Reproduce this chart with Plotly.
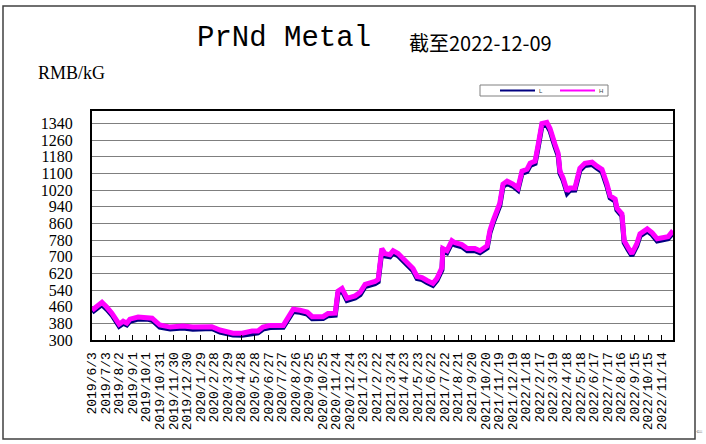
import plotly.graph_objects as go
import pandas as pd

dates = ["2019-06-03", "2019-06-25", "2019-07-06", "2019-07-17", "2019-08-02", "2019-08-11", "2019-08-19",
         "2019-08-26", "2019-09-13", "2019-10-03", "2019-10-14", "2019-10-31", "2019-11-23", "2019-12-21",
         "2020-01-12", "2020-02-23", "2020-03-12", "2020-04-10", "2020-04-30", "2020-05-22", "2020-06-04",
         "2020-06-15", "2020-07-01", "2020-07-30", "2020-08-10", "2020-08-21", "2020-09-05", "2020-09-21",
         "2020-10-02", "2020-10-26", "2020-11-06", "2020-11-22", "2020-11-28", "2020-12-07", "2020-12-18",
         "2021-01-05", "2021-01-16", "2021-01-27", "2021-02-18", "2021-02-25", "2021-03-05", "2021-03-12",
         "2021-03-23", "2021-03-30", "2021-04-10", "2021-04-30", "2021-05-13", "2021-05-22", "2021-06-02",
         "2021-06-13", "2021-06-26", "2021-07-05", "2021-07-16", "2021-07-18", "2021-07-27", "2021-08-07",
         "2021-08-14", "2021-08-29", "2021-09-10", "2021-09-27", "2021-10-08", "2021-10-24", "2021-10-30",
         "2021-11-06", "2021-11-21", "2021-11-28", "2021-12-07", "2021-12-20", "2021-12-31", "2022-01-09",
         "2022-01-20", "2022-01-27", "2022-02-07", "2022-02-14", "2022-02-22", "2022-03-05", "2022-03-12",
         "2022-03-23", "2022-03-30", "2022-04-03", "2022-04-10", "2022-04-19", "2022-04-25", "2022-05-06",
         "2022-05-17", "2022-05-28", "2022-06-13", "2022-06-24", "2022-07-05", "2022-07-16", "2022-07-23",
         "2022-08-03", "2022-08-07", "2022-08-18", "2022-08-23", "2022-09-01", "2022-09-09", "2022-09-20",
         "2022-09-27", "2022-10-13", "2022-10-24", "2022-11-04", "2022-11-17", "2022-11-28", "2022-12-09"]

high = [443, 481, 457, 429, 376, 390, 381, 400, 410, 410, 405, 372, 362, 367, 362, 364, 348, 333, 333, 343, 343,
        362, 370, 370, 405, 448, 443, 434, 412, 412, 427, 429, 535, 548, 500, 512, 529, 567, 581, 591, 739, 715,
        710, 729, 715, 672, 643, 605, 600, 586, 572, 596, 648, 739, 729, 777, 767, 758, 739, 739, 729, 753, 825,
        872, 958, 1049, 1063, 1049, 1030, 1111, 1120, 1149, 1159, 1240, 1340, 1345, 1316, 1240, 1197, 1111, 1078,
        1015, 1030, 1030, 1125, 1149, 1154, 1135, 1120, 1049, 992, 977, 934, 906, 777, 743, 715, 763, 810, 834,
        815, 786, 791, 796, 825]

low = [433, 470, 447, 420, 366, 380, 372, 390, 400, 401, 395, 362, 353, 357, 352, 355, 338, 324, 323, 333, 334,
       352, 360, 361, 395, 437, 433, 424, 402, 403, 417, 419, 524, 537, 490, 502, 518, 556, 571, 580, 727, 704,
       700, 718, 705, 662, 633, 595, 590, 576, 562, 586, 637, 728, 719, 766, 757, 748, 729, 729, 719, 742, 814,
       861, 946, 1038, 1052, 1039, 1020, 1100, 1109, 1138, 1148, 1228, 1328, 1333, 1305, 1229, 1186, 1100, 1067,
       1005, 1019, 1020, 1114, 1138, 1143, 1125, 1109, 1038, 982, 967, 924, 896, 767, 733, 705, 752, 800, 823,
       805, 776, 781, 786, 815]

tick_labels = ["2019/6/3", "2019/7/3", "2019/8/2", "2019/9/1", "2019/10/1", "2019/10/31", "2019/11/30",
               "2019/12/30", "2020/1/29", "2020/2/28", "2020/3/29", "2020/4/28", "2020/5/28", "2020/6/27",
               "2020/7/27", "2020/8/26", "2020/9/25", "2020/10/25", "2020/11/24", "2020/12/24", "2021/1/23",
               "2021/2/22", "2021/3/24", "2021/4/23", "2021/5/23", "2021/6/22", "2021/7/22", "2021/8/21",
               "2021/9/20", "2021/10/20", "2021/11/19", "2021/12/19", "2022/1/18", "2022/2/17", "2022/3/19",
               "2022/4/18", "2022/5/18", "2022/6/17", "2022/7/17", "2022/8/16", "2022/9/15", "2022/10/15",
               "2022/11/14"]

y_ticks = [300, 380, 460, 540, 620, 700, 780, 860, 940, 1020, 1100, 1180, 1260, 1340]

legend_names = ["L", "H"]

tick_vals = pd.to_datetime(tick_labels, format="%Y/%m/%d")

NAVY = "#000080"
MAGENTA = "#FF00FF"

fig = go.Figure()
fig.add_trace(go.Scatter(x=dates, y=low, mode="lines", line=dict(color=NAVY, width=5),
                         name=legend_names[0], showlegend=False, hoverinfo="skip"))
fig.add_trace(go.Scatter(x=dates, y=high, mode="lines", line=dict(color=MAGENTA, width=5),
                         name=legend_names[1], showlegend=False, hoverinfo="skip"))

fig.update_xaxes(
    type="date", automargin=False,
    range=["2019-06-03", "2022-12-09"],
    tickvals=tick_vals, ticktext=tick_labels, tickangle=-90,
    ticks="inside", ticklen=5, tickcolor="black", tickwidth=1,
    showgrid=False, showline=True, linecolor="black", linewidth=2, mirror=True,
    tickfont=dict(family="Liberation Mono", size=13, color="black"),
    ticklabelstandoff=5, zeroline=False,
)
fig.update_yaxes(
    automargin=False,
    range=[300, 1400], tickvals=y_ticks,
    showgrid=True, gridcolor="#7f7f7f", gridwidth=1,
    showline=True, linecolor="black", linewidth=2, mirror=True,
    ticks="", tickfont=dict(family="Liberation Serif", size=16, color="black"),
    ticklabelstandoff=14, zeroline=False,
)

L, R, T, B = 92, 33, 111, 104
W, H = 706, 444
pw, ph = W - L - R, H - T - B

def px(xp):
    return (xp - L) / pw

def py(yp):
    return (H - B - yp) / ph

# legend drawn as a small boxed key above the plot
legend_shapes = [
    dict(type="rect", xref="paper", yref="paper", x0=px(480), x1=px(608), y0=py(96), y1=py(85),
         line=dict(color="#808080", width=1), fillcolor="white"),
    dict(type="line", xref="paper", yref="paper", x0=px(500), x1=px(535), y0=py(90.5), y1=py(90.5),
         line=dict(color=NAVY, width=2)),
    dict(type="line", xref="paper", yref="paper", x0=px(560), x1=px(595), y0=py(90.5), y1=py(90.5),
         line=dict(color=MAGENTA, width=2)),
]
legend_texts = [
    dict(text=legend_names[0], xref="paper", yref="paper", x=px(537), y=py(91), xanchor="left",
         yanchor="middle", showarrow=False, font=dict(family="Liberation Sans", size=6, color="#404040")),
    dict(text=legend_names[1], xref="paper", yref="paper", x=px(597), y=py(91), xanchor="left",
         yanchor="middle", showarrow=False, font=dict(family="Liberation Sans", size=6, color="#404040")),
]

fig.update_layout(
    width=W, height=H, autosize=False,
    margin=dict(l=L, r=R, t=T, b=B, pad=0),
    paper_bgcolor="white", plot_bgcolor="white",
    showlegend=False,
    shapes=[dict(type="rect", xref="paper", yref="paper",
                 x0=px(3), x1=px(695), y0=py(439), y1=py(6),
                 line=dict(color="#404040", width=1.5), fillcolor="rgba(0,0,0,0)", layer="below")]
           + legend_shapes,
    annotations=[
        dict(text="PrNd Metal", xref="paper", yref="paper", x=px(284), y=py(38),
             xanchor="center", yanchor="middle", showarrow=False,
             font=dict(family="Liberation Mono", size=29, color="black")),
        dict(text="截至2022-12-09", xref="paper", yref="paper", x=px(407), y=py(42),
             xanchor="left", yanchor="middle", showarrow=False,
             font=dict(family="Noto Sans CJK SC", size=20, color="black")),
        dict(text="RMB/kG", xref="paper", yref="paper", x=px(36), y=py(73),
             xanchor="left", yanchor="middle", showarrow=False,
             font=dict(family="Liberation Serif", size=18, color="black")),
        dict(text="⇐", xref="paper", yref="paper", x=px(699), y=py(431),
             xanchor="center", yanchor="middle", showarrow=False,
             font=dict(family="DejaVu Sans", size=8, color="#a0a0a0")),
    ] + legend_texts,
)

fig.write_html("out.html", post_script="document.body.style.margin='0';",
               config={"displayModeBar": False})
